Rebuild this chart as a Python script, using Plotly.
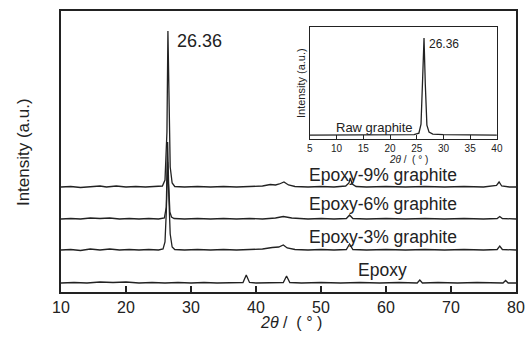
import plotly.graph_objects as go

FONT = "Arial, Liberation Sans, sans-serif"

# Main panel: 2theta values and intensities (arbitrary units, offset stacked)
x_epoxy = [10, 12, 14, 16, 18, 20, 22, 24, 26, 28, 30, 32, 34, 36, 38.0, 38.5, 39.0, 40, 42,
           44.2, 44.7, 45.2, 47, 50, 53, 56, 59, 62, 64.8, 65.2, 65.6, 68, 71, 74, 78.0, 78.4, 78.8, 80]
y_epoxy = [9, 9.5, 9, 10, 9.5, 10, 9, 9.5, 9, 9.5, 9, 9.5, 9, 9.5, 9.5, 17, 9.5, 9, 9.5,
           9.5, 16, 9.5, 9, 9.5, 9, 9.5, 9, 9.5, 9, 12, 9, 9.5, 9, 9.5, 9, 11.5, 9, 9]

x_3 = [10, 11.5, 13, 14.5, 16, 17.5, 19, 20.5, 22, 23.5, 25, 25.7, 26.0, 26.2, 26.4, 26.6, 26.8, 27.1, 27.5,
       29, 31, 33, 35, 37, 39, 41, 42.5, 43.5, 44.2, 44.8, 46, 48, 50, 52, 53.9, 54.4, 54.9,
       57, 60, 63, 66, 69, 72, 75, 77.1, 77.5, 77.9, 80]
y_3 = [42, 42.5, 41.5, 43, 42, 43, 42, 42.5, 42, 42.5, 42, 43, 50, 80, 130, 95, 58, 45, 42.5,
       42, 42.5, 42, 42.5, 42, 42.5, 43, 44.5, 45, 47, 44, 42.5, 42, 42.5, 42, 42.5, 48, 42.5,
       42, 42.5, 42, 42.5, 42, 42.5, 42, 42.5, 46, 42.5, 42]

x_6 = [10, 11.5, 13, 14.5, 16, 17.5, 19, 20.5, 22, 23.5, 25, 25.9, 26.2, 26.4, 26.55, 26.75, 27.0, 27.4,
       29, 31, 33, 35, 37, 39, 41, 43, 44.2, 45.5, 48, 50, 52, 53.9, 54.4, 54.9,
       57, 60, 63, 66, 69, 72, 75, 77.1, 77.5, 77.9, 80]
y_6 = [73, 73.5, 73, 74, 73.5, 74, 73, 73.5, 73, 73.5, 73, 74, 85, 150, 110, 80, 75, 73.5,
       73, 73.5, 73, 73.5, 73, 73.5, 73, 74, 75.5, 74, 73, 73.5, 73, 73.5, 77, 73.5,
       73, 73.5, 73, 73.5, 73, 73.5, 73, 73.5, 75.5, 73.5, 73]

x_9 = [10, 11.5, 13, 14.5, 16, 17, 18.5, 20, 21.5, 23, 24.5, 25.6, 26.0, 26.3, 26.45, 26.6, 26.8, 27.1, 27.5,
       29, 31, 33, 35, 37, 39, 41, 42.2, 43, 43.6, 44.3, 45, 46, 48, 50, 52, 53.8, 54.3, 54.5, 54.8, 55.4,
       57, 60, 63, 66, 69, 72, 75, 77.0, 77.4, 77.8, 79, 80]
y_9 = [105, 105.5, 104.5, 105.5, 106, 105, 106, 105, 105.5, 105, 105.5, 106, 112, 160, 261, 175, 125, 109, 105.5,
       105, 105.5, 105, 105.5, 105, 105.5, 106, 107.5, 107, 108, 110, 107, 105.5, 105, 105.5, 105, 106, 109, 114, 108, 105.5,
       105, 105.5, 105, 105.5, 105, 105.5, 105, 106.5, 110, 106, 105, 105]

# Inset: raw graphite
x_raw = [5, 8, 11, 14, 17, 20, 23, 24.5, 25.4, 25.8, 26.1, 26.36, 26.6, 26.9, 27.3, 28, 30, 33, 36, 40]
y_raw = [4, 4, 4, 4, 4, 4, 4.2, 4.5, 6, 15, 60, 101, 55, 14, 7, 5, 4.5, 4.2, 4, 4]

series_labels = ["Epoxy-9% graphite", "Epoxy-6% graphite", "Epoxy-3% graphite", "Epoxy"]
label_y = [117, 88, 55, 22]
main_ticks = [10, 20, 30, 40, 50, 60, 70, 80]
inset_ticks = [5, 10, 15, 20, 25, 30, 35, 40]

fig = go.Figure()
for xs, ys in [(x_epoxy, y_epoxy), (x_3, y_3), (x_6, y_6), (x_9, y_9)]:
    fig.add_trace(go.Scatter(x=xs, y=ys, mode="lines", line=dict(color="#222", width=1.3),
                             showlegend=False, hoverinfo="skip"))
fig.add_trace(go.Scatter(x=x_raw, y=y_raw, mode="lines", line=dict(color="#222", width=1.3),
                         xaxis="x2", yaxis="y2", showlegend=False, hoverinfo="skip"))

for t, yv in zip(series_labels, label_y):
    fig.add_annotation(x=59.5, y=yv, text=t, showarrow=False, xanchor="center", yanchor="middle",
                       font=dict(family=FONT, size=17.5, color="#222"))
fig.add_annotation(x=27.5, y=251, text="26.36", showarrow=False, xanchor="left", yanchor="middle",
                   font=dict(family=FONT, size=18, color="#222"))
fig.add_annotation(x=26.9, y=95, xref="x2", yref="y2", text="26.36", showarrow=False,
                   xanchor="left", yanchor="middle", font=dict(family=FONT, size=12, color="#222"))
fig.add_annotation(x=17.0, y=12, xref="x2", yref="y2", text="Raw graphite", showarrow=False,
                   xanchor="center", yanchor="middle", font=dict(family=FONT, size=13, color="#222"))

# axis titles
fig.add_annotation(xref="paper", yref="paper", x=0.505, y=-0.110, text="<i>2θ</i> /  ( ° )",
                   showarrow=False, xanchor="center", yanchor="middle",
                   font=dict(family=FONT, size=16, color="#222"))
fig.add_annotation(xref="paper", yref="paper", x=-0.0835, y=0.498, text="Intensity (a.u.)",
                   textangle=-90, showarrow=False, xanchor="center", yanchor="middle",
                   font=dict(family=FONT, size=17, color="#222"))
fig.add_annotation(xref="paper", yref="paper", x=0.763, y=0.4733, text="<i>2θ</i> /  ( ° )",
                   showarrow=False, xanchor="center", yanchor="middle",
                   font=dict(family=FONT, size=10, color="#222"))
fig.add_annotation(xref="paper", yref="paper", x=0.527, y=0.743, text="Intensity (a.u.)",
                   textangle=-90, showarrow=False, xanchor="center", yanchor="middle",
                   font=dict(family=FONT, size=11, color="#222"))

fig.update_layout(
    width=532, height=340,
    margin=dict(l=61, r=16, t=11, b=48, autoexpand=False),
    paper_bgcolor="white", plot_bgcolor="white",
    font=dict(family=FONT, color="#222"),
    xaxis=dict(range=[10, 80], tickvals=main_ticks, ticks="inside", ticklen=6, tickwidth=1.5,
               tickcolor="#222", showline=True, linecolor="#222", linewidth=1.8, mirror=True,
               showgrid=False, zeroline=False, tickfont=dict(size=16), automargin=False),
    yaxis=dict(range=[0, 281], showticklabels=False, ticks="", showline=True, linecolor="#222",
               linewidth=1.8, mirror=True, showgrid=False, zeroline=False, automargin=False),
    xaxis2=dict(domain=[0.547, 0.958], anchor="y2", range=[5, 40], tickvals=inset_ticks,
                ticks="inside", ticklen=4, tickcolor="#222", showline=True, linecolor="#222",
                linewidth=1.2, mirror=True, showgrid=False, zeroline=False, automargin=False,
                tickfont=dict(size=10)),
    yaxis2=dict(domain=[0.544, 0.943], anchor="x2", range=[0, 112], showticklabels=False,
                ticks="", showline=True, linecolor="#222", linewidth=1.2, mirror=True,
                showgrid=False, zeroline=False, automargin=False),
)

fig.write_html("out.html", config={"displayModeBar": False},
               post_script="document.body.style.margin='0';")
